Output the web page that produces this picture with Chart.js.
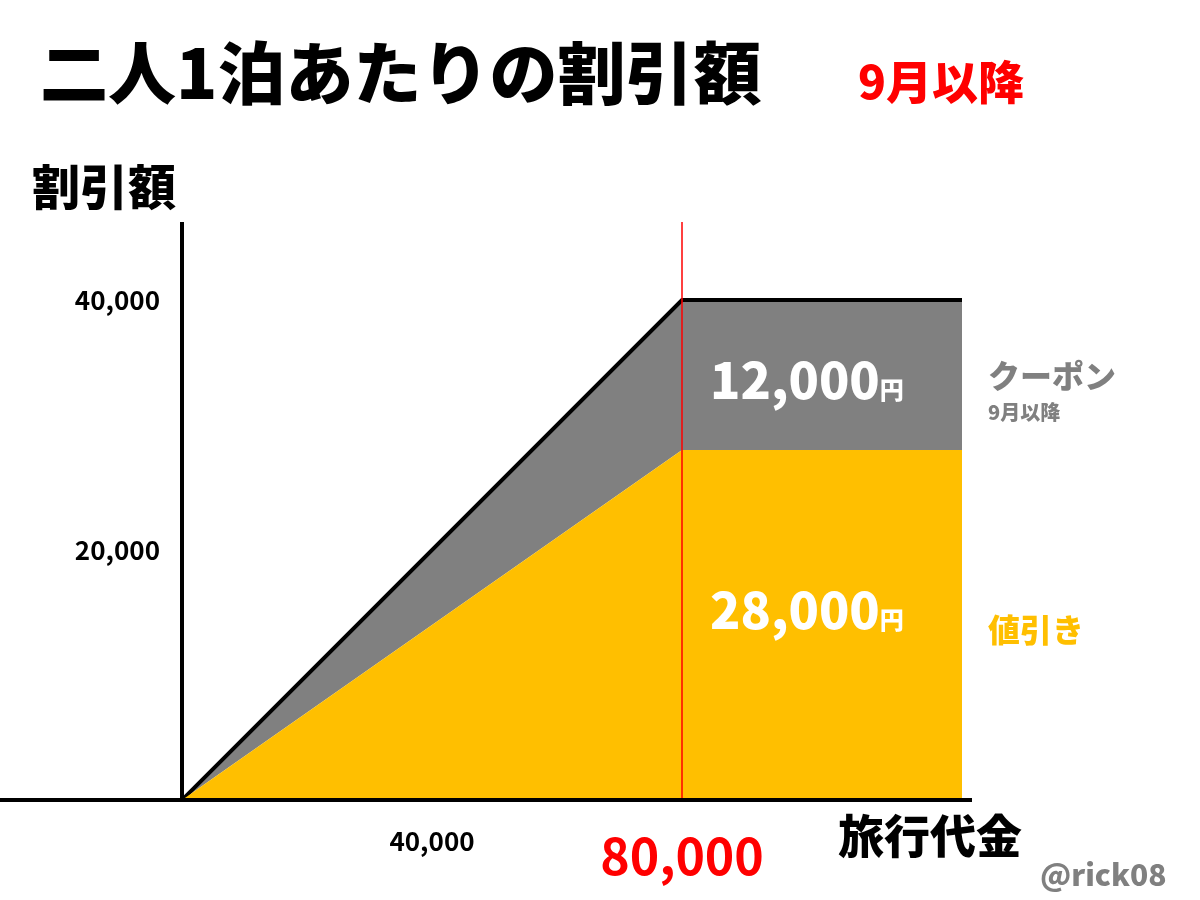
<!DOCTYPE html>
<html lang="ja">
<head>
<meta charset="UTF-8">
<title>二人1泊あたりの割引額</title>
<script src="https://cdn.jsdelivr.net/npm/chart.js"></script>
<style>
  body { margin: 0; background: #fff; font-family: 'Noto Sans CJK JP', sans-serif; font-weight: 900; }
  .wrap { position: relative; width: 1200px; height: 900px; }
  .t { position: absolute; white-space: nowrap; line-height: 1; }
</style>
</head>
<body>
<div class="wrap">
  <canvas id="c" width="1200" height="900"></canvas>
  <div class="t" style="left:40px;top:36px;font-size:68px;color:#000;">二人1泊あたりの割引額</div>
  <div class="t" style="left:858px;top:56px;font-size:46px;color:#f00;">9月以降</div>
  <div class="t" style="left:32px;top:160px;font-size:48px;color:#000;">割引額</div>
  <div class="t" style="left:838px;top:810px;font-size:46px;color:#000;">旅行代金</div>
  <div class="t" style="left:710px;top:352px;font-size:50px;color:#fff;">12,000<span style="font-size:24px">円</span></div>
  <div class="t" style="left:710px;top:582px;font-size:50px;color:#fff;">28,000<span style="font-size:24px">円</span></div>
  <div class="t" style="left:988px;top:358px;font-size:32px;color:#808080;">クーポン</div>
  <div class="t" style="left:988px;top:402px;font-size:20px;color:#808080;">9月以降</div>
  <div class="t" style="left:988px;top:612px;font-size:32px;color:#ffbf00;">値引き</div>
  <div class="t" style="left:1040px;top:858px;font-size:30px;color:#808080;">@rick08</div>
</div>
<script>
// data
const travelCost = [0, 80000, 124800];
const discount = [0, 28000, 28000];   // 値引き
const total = [0, 40000, 40000];      // 値引き + クーポン
const xTicks = [40000, 80000];
const yTicks = [20000, 40000];

const pts = ys => travelCost.map((x, i) => ({ x: x, y: ys[i] }));

const axesPlugin = {
  id: 'axesPlugin',
  afterDatasetsDraw(chart) {
    const { ctx, chartArea: a, scales: { x, y } } = chart;
    ctx.save();
    // red marker at 80,000
    const rx = x.getPixelForValue(80000);
    ctx.strokeStyle = '#f00'; ctx.lineWidth = 1.5;
    ctx.beginPath(); ctx.moveTo(rx, a.top); ctx.lineTo(rx, a.bottom); ctx.stroke();
    // axes
    ctx.strokeStyle = '#000'; ctx.lineWidth = 4;
    ctx.beginPath();
    ctx.moveTo(a.left, a.top); ctx.lineTo(a.left, a.bottom);
    ctx.moveTo(0, a.bottom); ctx.lineTo(a.right, a.bottom);
    ctx.stroke();
    ctx.restore();
  }
};

new Chart(document.getElementById('c'), {
  type: 'line',
  data: {
    datasets: [
      { data: pts(discount), borderWidth: 0, pointRadius: 0, fill: 'origin', backgroundColor: '#ffbf00' },
      { data: pts(total), borderColor: '#000', borderWidth: 4, pointRadius: 0, fill: '-1', backgroundColor: '#808080' }
    ]
  },
  options: {
    responsive: false,
    animation: false,
    layout: { padding: { top: 222, right: 228 } },
    plugins: { legend: { display: false }, tooltip: { enabled: false } },
    scales: {
      x: {
        type: 'linear', min: 0, max: 126400,
        afterFit: s => { s.height = 100; },
        afterBuildTicks: s => { s.ticks = xTicks.map(v => ({ value: v })); },
        grid: { display: false }, border: { display: false },
        ticks: {
          padding: 18,
          color: c => c.tick.value === 80000 ? '#f00' : '#000',
          font: c => ({ family: 'Noto Sans CJK JP', weight: 'bold', size: c.tick && c.tick.value === 80000 ? 50 : 26 }),
          callback: v => v.toLocaleString('en-US')
        }
      },
      y: {
        type: 'linear', min: 0, max: 46240,
        afterFit: s => { s.width = 182; },
        afterBuildTicks: s => { s.ticks = yTicks.map(v => ({ value: v })); },
        grid: { display: false }, border: { display: false },
        ticks: {
          padding: 14, color: '#000',
          font: { family: 'Noto Sans CJK JP', weight: 'bold', size: 26 },
          callback: v => v.toLocaleString('en-US')
        }
      }
    }
  },
  plugins: [axesPlugin]
});
</script>
</body>
</html>
